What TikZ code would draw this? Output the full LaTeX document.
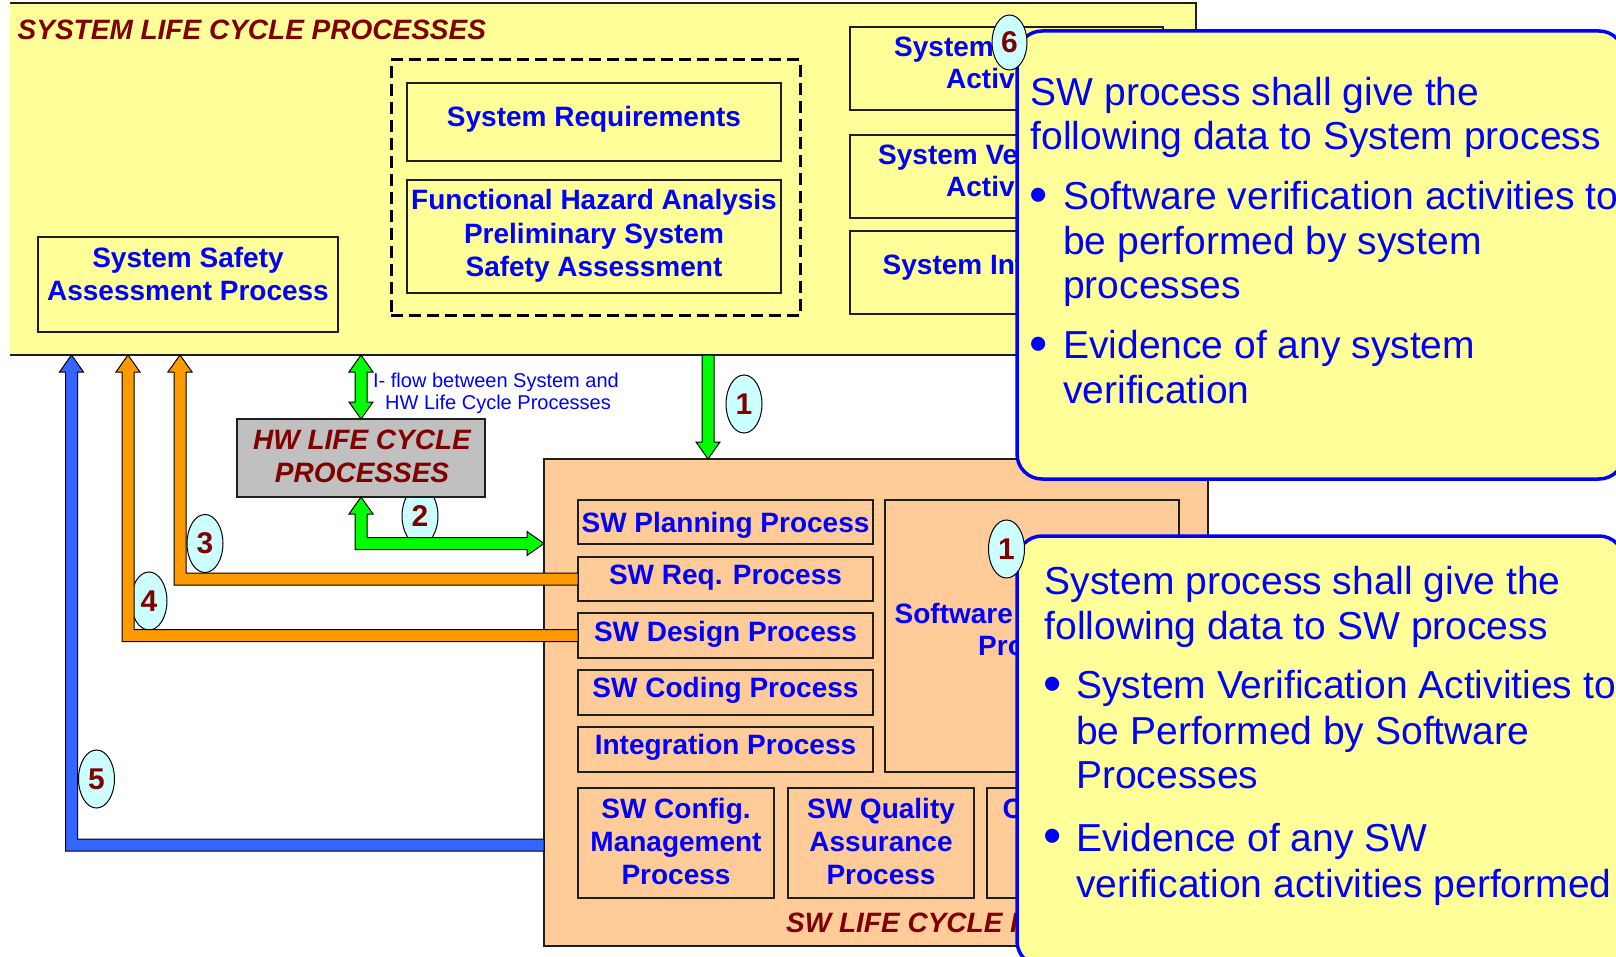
\documentclass[tikz,border=0pt]{standalone}
\usepackage{fontspec}
\setmainfont{Liberation Sans}
\usetikzlibrary{calc,shapes.geometric}
\definecolor{sysyel}{HTML}{FFFF99}
\definecolor{swpeach}{HTML}{FFCC99}
\definecolor{hwgray}{HTML}{C0C0C0}
\definecolor{txtblue}{HTML}{0000FF}
\definecolor{darkred}{HTML}{800000}
\definecolor{agreen}{HTML}{00FF00}
\definecolor{aorange}{HTML}{FF9900}
\definecolor{ablue}{HTML}{3366FF}
\definecolor{ellcyan}{HTML}{CCFFFF}
\definecolor{edge}{HTML}{1E1E1E}
\newcommand\boxnd[6]{\node[#6, anchor=north west, inner sep=0pt, outer sep=0pt, minimum width={#4-#2}, minimum height={#5-#3}] (#1) at (#2,#3) {};}
\newcommand\txtl[5]{\node[#4] (#1) at (#2,#3) {#5};}
\newcommand\bxfont{\fontsize{28}{33}\selectfont\bfseries}
\newcommand\ttlfont{\fontsize{28}{33}\selectfont\bfseries\itshape}
\newcommand\calfont{\fontsize{39}{45}\selectfont}
\newcommand\bulfont{\fontsize{52}{56}\selectfont}
\newcommand\flwfont{\fontsize{20}{22}\selectfont}
\newcommand\digfont{\fontsize{30}{32}\selectfont\bfseries}
\begin{document}
\begin{tikzpicture}[x=1pt,y=-1pt,
  frame/.style={draw=edge, line width=1.4pt},
  dashbox/.style={draw=black, line width=3pt, dash pattern=on 12pt off 6pt},
  callbox/.style={draw=txtblue, line width=3.5pt, fill=sysyel, rounded corners=25pt},
  bxtxt/.style={font=\bxfont, text=txtblue, inner sep=0pt, anchor=base},
  bxtxtw/.style={font=\bxfont, text=txtblue, inner sep=0pt, anchor=base west},
  ttl/.style={font=\ttlfont, text=darkred, inner sep=0pt},
  caltxt/.style={font=\calfont, text=txtblue, inner sep=0pt, anchor=base west},
  bul/.style={font=\bulfont, text=txtblue, inner sep=0pt},
  flwtxt/.style={font=\flwfont, text=txtblue, inner sep=0pt, anchor=base},
  ellnum/.style={ellipse, draw=black, line width=1pt, fill=ellcyan, minimum width=36pt, minimum height=58pt, inner sep=0pt, font=\digfont, text=darkred},
  garrow/.style={fill=agreen, draw=black, line width=1pt, line join=miter},
  oarrow/.style={fill=aorange, draw=black, line width=1pt, line join=miter},
  barrow/.style={fill=ablue, draw=black, line width=1pt, line join=miter}]
\useasboundingbox (0,0) rectangle (1616,957);
\fill[white] (0,0) rectangle (1616,957);

% ---------- System life cycle box ----------
\boxnd{sys}{10}{3}{1196}{355}{fill=sysyel}
\draw[edge, line width=1.8pt] (sys.north west) -- (sys.north east) -- (sys.south east) -- (sys.south west);
\txtl{systtl}{17.5}{40}{ttl, anchor=base west}{SYSTEM LIFE CYCLE PROCESSES}

\boxnd{dash}{391}{60}{800}{316}{dashbox}
\boxnd{sreq}{407}{83}{781}{161}{frame}
\txtl{sreqt}{594}{127}{bxtxt}{System Requirements}
\boxnd{fha}{407}{180}{781}{293}{frame}
\txtl{fhat1}{594}{210}{bxtxt}{Functional Hazard Analysis}
\txtl{fhat2}{594}{244}{bxtxt}{Preliminary System}
\txtl{fhat3}{594}{277}{bxtxt}{Safety Assessment}
\boxnd{ssa}{38}{237}{338}{332}{frame}
\txtl{ssat1}{188}{268}{bxtxt}{System Safety}
\txtl{ssat2}{188}{301}{bxtxt}{Assessment Process}

\boxnd{bva}{850}{27}{1163}{110}{frame}
\txtl{bvat1}{894}{57}{bxtxtw}{System}
\txtl{bvat2}{946}{89}{bxtxtw}{Activ}
\boxnd{bve}{850}{135}{1163}{218}{frame}
\txtl{bvet1}{878}{165}{bxtxtw}{System Ve}
\txtl{bvet2}{946}{197}{bxtxtw}{Activ}
\boxnd{bin}{850}{231}{1163}{314}{frame}
\txtl{bint1}{882.5}{275}{bxtxtw}{System Int}

% ---------- SW life cycle box ----------
\boxnd{sw}{544}{459}{1208}{946}{frame, fill=swpeach}
\boxnd{pl}{578}{500}{873}{544}{frame}
\txtl{plt}{725.5}{532}{bxtxt}{SW Planning Process}
\boxnd{rq}{578}{557}{873}{601}{frame}
\txtl{rqt}{725.5}{584.5}{bxtxt}{SW Req. Process}
\boxnd{ds}{578}{613}{873}{658}{frame}
\txtl{dst}{725.5}{641}{bxtxt}{SW Design Process}
\boxnd{cd}{578}{670}{873}{715}{frame}
\txtl{cdt}{725.5}{697.5}{bxtxt}{SW Coding Process}
\boxnd{ig}{578}{727}{873}{772}{frame}
\txtl{igt}{725.5}{754}{bxtxt}{Integration Process}
\boxnd{sv}{885}{500}{1179}{772}{frame}
\txtl{svt1}{894.5}{623}{bxtxtw}{Software}
\txtl{svt2}{978}{655}{bxtxtw}{Pro}
\boxnd{cm}{578}{788}{774}{898}{frame}
\txtl{cmt1}{676}{818}{bxtxt}{SW Config.}
\txtl{cmt2}{676}{851}{bxtxt}{Management}
\txtl{cmt3}{676}{884}{bxtxt}{Process}
\boxnd{qa}{788}{788}{974}{898}{frame}
\txtl{qat1}{881}{818}{bxtxt}{SW Quality}
\txtl{qat2}{881}{851}{bxtxt}{Assurance}
\txtl{qat3}{881}{884}{bxtxt}{Process}
\boxnd{cl}{987}{788}{1179}{898}{frame}
\txtl{clt1}{1002.5}{818}{bxtxtw}{C}
\txtl{swttl}{786}{932}{ttl, anchor=base west}{SW LIFE CYCLE P}

% ---------- number ellipses (under arrows) ----------
\node[ellnum] (e2) at (420,516) {2};
\node[ellnum] (e3) at (205,543.5) {3};
\node[ellnum] (e4) at (149,601) {4};
\node[ellnum] (e5) at (96.5,779) {5};
\node[ellnum] (e1u) at (744,404) {1};

% ---------- HW box ----------
\boxnd{hw}{237}{419}{485}{497}{frame, fill=hwgray}
\txtl{hwt1}{362}{449}{ttl, anchor=base}{HW LIFE CYCLE}
\txtl{hwt2}{362}{482}{ttl, anchor=base}{PROCESSES}
\txtl{flw1}{496}{387}{flwtxt}{I- flow between System and}
\txtl{flw2}{498}{409}{flwtxt}{HW Life Cycle Processes}

% ---------- arrows ----------
\coordinate (a1x) at (708,0);
\coordinate (a2y) at (0,543.5);
\coordinate (a3x) at (180,0);
\coordinate (a4x) at (128,0);
\coordinate (a5x) at (71.5,0);
\coordinate (a5y) at (0,845);

% system <-> HW double arrow
\coordinate (adT) at (hw.north |- sys.south);
\coordinate (adB) at (hw.north);
\filldraw[garrow] (adT) -- ($(adT)+(12,17)$) -- ($(adT)+(6,17)$) -- ($(adB)+(6,-17)$) -- ($(adB)+(12,-17)$) -- (adB)
  -- ($(adB)+(-12,-17)$) -- ($(adB)+(-6,-17)$) -- ($(adT)+(-6,17)$) -- ($(adT)+(-12,17)$) -- cycle;

% arrow 1: system -> SW
\coordinate (a1s) at (sys.south -| a1x);
\coordinate (a1e) at (sw.north -| a1x);
\filldraw[garrow] ($(a1s)+(-6,0)$) -- ($(a1s)+(6,0)$) -- ($(a1e)+(6,-17)$) -- ($(a1e)+(12,-17)$) -- (a1e)
  -- ($(a1e)+(-12,-17)$) -- ($(a1e)+(-6,-17)$) -- cycle;

% arrow 2: HW <-> SW
\coordinate (a2U) at (hw.south);
\coordinate (a2R) at (sw.west |- a2y);
\coordinate (a2C) at (hw.south |- a2y);
\filldraw[garrow] (a2U) -- ($(a2U)+(12,17)$) -- ($(a2U)+(6,17)$) -- ($(a2C)+(6,-6)$) -- ($(a2R)+(-17,-6)$)
  -- ($(a2R)+(-17,-12)$) -- (a2R) -- ($(a2R)+(-17,12)$) -- ($(a2R)+(-17,6)$) -- ($(a2C)+(-6,6)$)
  -- ($(a2U)+(-6,17)$) -- ($(a2U)+(-12,17)$) -- cycle;

% arrow 3: SW Req -> system
\coordinate (a3P) at (rq.west);
\coordinate (a3C) at (a3x |- rq.west);
\coordinate (a3T) at (a3x |- sys.south);
\filldraw[oarrow] ($(a3P)+(0,-6)$) -- ($(a3C)+(6,-6)$) -- ($(a3T)+(6,17)$) -- ($(a3T)+(12,17)$) -- (a3T)
  -- ($(a3T)+(-12,17)$) -- ($(a3T)+(-6,17)$) -- ($(a3C)+(-6,6)$) -- ($(a3P)+(0,6)$) -- cycle;

% arrow 4: SW Design -> system
\coordinate (a4P) at (ds.west);
\coordinate (a4C) at (a4x |- ds.west);
\coordinate (a4T) at (a4x |- sys.south);
\filldraw[oarrow] ($(a4P)+(0,-6)$) -- ($(a4C)+(6,-6)$) -- ($(a4T)+(6,17)$) -- ($(a4T)+(12,17)$) -- (a4T)
  -- ($(a4T)+(-12,17)$) -- ($(a4T)+(-6,17)$) -- ($(a4C)+(-6,6)$) -- ($(a4P)+(0,6)$) -- cycle;

% arrow 5: SW -> system
\coordinate (a5P) at (sw.west |- a5y);
\coordinate (a5C) at (a5x |- a5y);
\coordinate (a5T) at (a5x |- sys.south);
\filldraw[barrow] ($(a5P)+(0,-6)$) -- ($(a5C)+(6,-6)$) -- ($(a5T)+(6,17)$) -- ($(a5T)+(12,17)$) -- (a5T)
  -- ($(a5T)+(-12,17)$) -- ($(a5T)+(-6,17)$) -- ($(a5C)+(-6,6)$) -- ($(a5P)+(0,6)$) -- cycle;

% ---------- callouts ----------
\boxnd{cal1}{1017}{31}{1624}{479}{callbox}
\txtl{c1a}{1030.5}{106}{caltxt}{SW process shall give the}
\txtl{c1b}{1030.5}{150}{caltxt}{following data to System process}
\node[bul] (c1bul1) at (1038.5,200.5) {•};
\txtl{c1c}{1063}{210}{caltxt}{Software verification activities to}
\txtl{c1d}{1063}{254.5}{caltxt}{be performed by system}
\txtl{c1e}{1063}{298.5}{caltxt}{processes}
\node[bul] (c1bul2) at (1038.5,349) {•};
\txtl{c1f}{1063}{358.5}{caltxt}{Evidence of any system}
\txtl{c1g}{1063}{403}{caltxt}{verification}

\boxnd{cal2}{1017}{536}{1624}{966}{callbox}
\txtl{c2a}{1044.5}{594}{caltxt}{System process shall give the}
\txtl{c2b}{1044.5}{639.5}{caltxt}{following data to SW process}
\node[bul] (c2bul1) at (1053,689) {•};
\txtl{c2c}{1076}{698.5}{caltxt}{System Verification Activities to}
\txtl{c2d}{1076}{744}{caltxt}{be Performed by Software}
\txtl{c2e}{1076}{788}{caltxt}{Processes}
\node[bul] (c2bul2) at (1053,841.5) {•};
\txtl{c2f}{1076}{851}{caltxt}{Evidence of any SW}
\txtl{c2g}{1076}{897}{caltxt}{verification activities performed}

% ---------- ellipses on top of callouts ----------
\node[ellnum, minimum width=35pt, minimum height=55pt] (e6) at (1009.5,42.5) {6};
\node[ellnum] (e1l) at (1006.5,549) {1};
\end{tikzpicture}
\end{document}
